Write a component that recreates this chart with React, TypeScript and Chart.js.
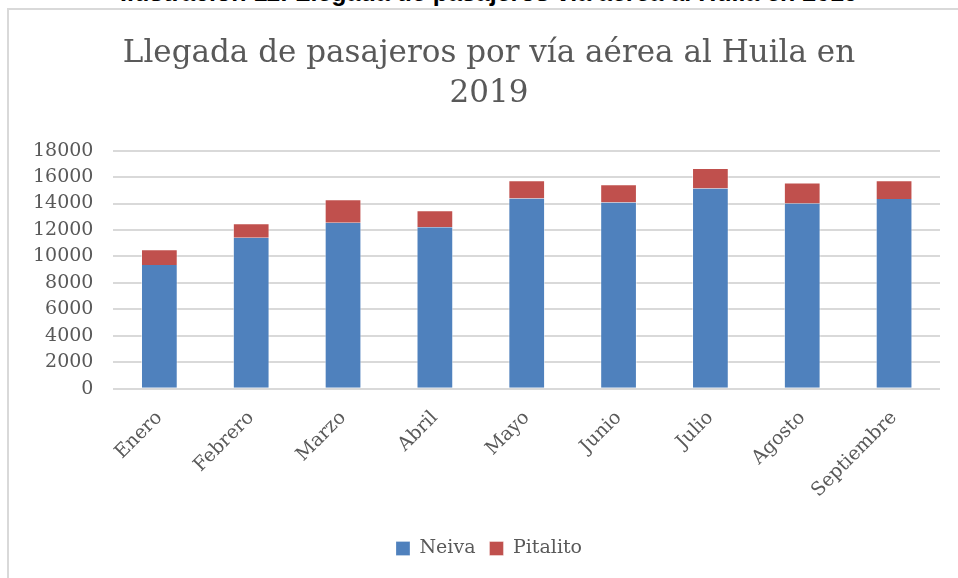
import React, { useEffect, useRef } from "react";
import { Chart, registerables } from "chart.js";

Chart.register(...registerables);

const categories = ["Enero", "Febrero", "Marzo", "Abril", "Mayo", "Junio", "Julio", "Agosto", "Septiembre"];
const neiva = [9360, 11420, 12550, 12200, 14380, 14080, 15140, 14010, 14350];
const pitalito = [1180, 1080, 1780, 1300, 1380, 1380, 1550, 1580, 1410];
const yTicks = [0, 2000, 4000, 6000, 8000, 10000, 12000, 14000, 16000, 18000];
const titleLines = ["Llegada de pasajeros por vía aérea al Huila en", "2019"];
const caption = "Ilustración 11: Llegada de pasajeros vía aérea al Huila en 2019";

const FONT = "'DejaVu Serif', serif";
const TXT = "#595959";

export default function App() {
  const ref = useRef<HTMLCanvasElement>(null);
  useEffect(() => {
    const chart = new Chart(ref.current!, {
      type: "bar",
      data: {
        labels: categories,
        datasets: [
          { label: "Neiva", data: neiva, backgroundColor: "#4f81bd", borderColor: "rgba(255,255,255,0.5)", borderWidth: { left: 1, right: 1 } as any, barPercentage: 0.4, categoryPercentage: 1 },
          { label: "Pitalito", data: pitalito, backgroundColor: "#c0504d", borderColor: "rgba(255,255,255,0.5)", borderWidth: { left: 1, right: 1, top: 1 } as any, barPercentage: 0.4, categoryPercentage: 1 },
        ],
      },
      options: {
        animation: false,
        responsive: false,
        maintainAspectRatio: false,
        layout: { padding: { left: 5, right: 0, top: 24, bottom: 10 } },
        plugins: {
          title: {
            display: true,
            text: titleLines,
            color: TXT,
            font: { family: FONT, size: 31, weight: "normal" as any, lineHeight: 1.3 },
            padding: { top: 0, bottom: 36 },
          },
          legend: {
            position: "bottom",
            labels: {
              color: TXT,
              font: { family: FONT, size: 19 },
              boxWidth: 14,
              boxHeight: 14,
              padding: 14,
            },
          },
          tooltip: { enabled: false },
        },
        scales: {
          x: {
            stacked: true,
            grid: { display: false, drawTicks: false },
            border: { display: false },
            ticks: {
              color: TXT,
              font: { family: FONT, size: 19 },
              minRotation: 45,
              maxRotation: 45,
              padding: 18,
            },
            afterFit: (s: any) => { s.height += 5; },
          },
          y: {
            stacked: true,
            min: 0,
            max: 18000,
            grid: { color: "#d9d9d9", lineWidth: 2, drawTicks: false },
            border: { display: false },
            afterBuildTicks: (s: any) => { s.ticks = yTicks.map((v) => ({ value: v })); },
            ticks: {
              autoSkip: false,
              color: TXT,
              font: { family: FONT, size: 19 },
              padding: 20,
              callback: (v: any) => String(v),
            },
          },
          yRightSpace: {
            position: "right",
            display: true,
            grid: { display: false, drawTicks: false },
            border: { display: false },
            ticks: { display: false },
            afterFit: (s: any) => { s.width = 25; },
          },
        },
      },
    });
    return () => chart.destroy();
  }, []);

  return (
    <div style={{ position: "fixed", left: 0, top: 0, width: 958, height: 578, overflow: "hidden", background: "#fff" }}>
      <div style={{ position: "absolute", left: 0, top: -22, width: 978, textAlign: "center", fontFamily: "'Liberation Sans', sans-serif", fontWeight: "bold", fontSize: 25, lineHeight: "29px", color: "#000", whiteSpace: "nowrap" }}>{caption}</div>
      <div style={{ position: "absolute", left: 7, top: 8, width: 990, height: 600, border: "2px solid #d9d9d9", boxSizing: "border-box" }} />
      <canvas ref={ref} width={957} height={568} style={{ position: "absolute", left: 8, top: 10, width: 957, height: 568 }} />
    </div>
  );
}
